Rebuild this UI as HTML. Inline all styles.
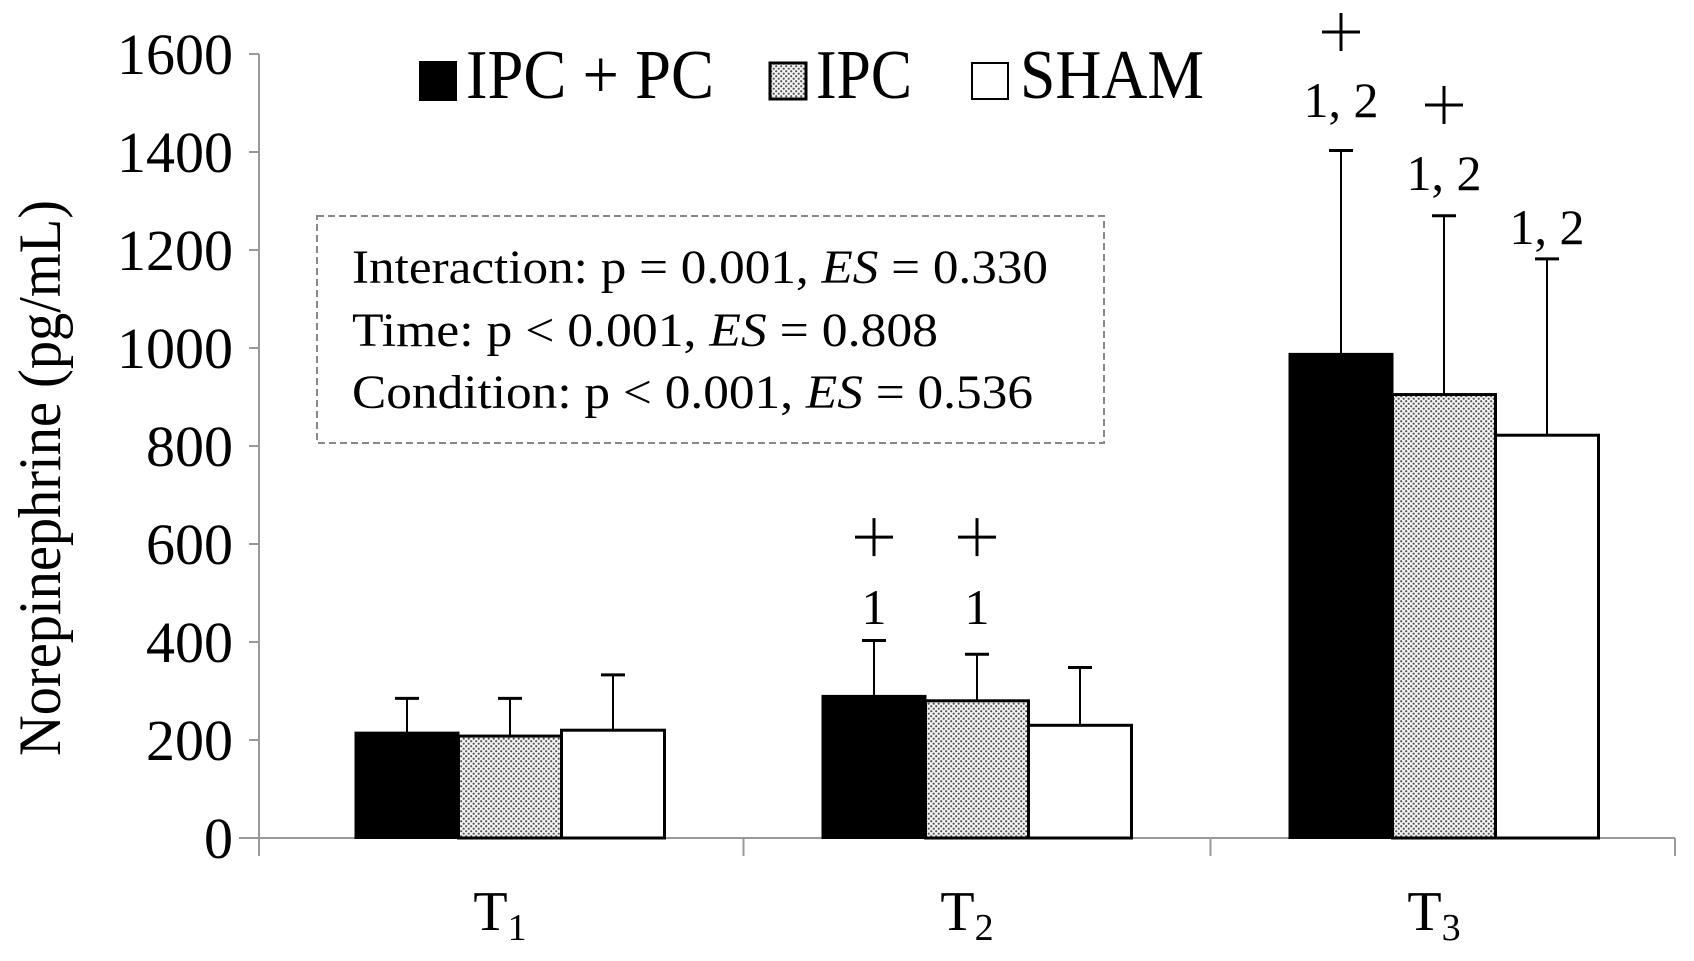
<!DOCTYPE html>
<html><head><meta charset="utf-8"><style>
body{margin:0;background:#fff}
svg{display:block;font-family:"Liberation Serif",serif}
</style></head><body>
<svg width="1694" height="961" viewBox="0 0 1694 961">
<defs>
<pattern id="dots" width="5" height="5" patternUnits="userSpaceOnUse">
<rect width="5" height="5" fill="#f4f4f4"/>
<circle cx="1.2" cy="1.2" r="1.1" fill="#555"/>
<circle cx="3.7" cy="3.7" r="1.1" fill="#555"/>
</pattern>
</defs>
<g id="axes"></g>
<g id="bars"></g>
<g font-size="70">
<rect x="419" y="61" width="38" height="40" fill="#000"/>
<text x="466" y="98" textLength="248" lengthAdjust="spacingAndGlyphs">IPC + PC</text>
<rect x="770" y="63" width="36" height="36" fill="url(#dots)" stroke="#000" stroke-width="3"/>
<text x="816" y="98" textLength="96" lengthAdjust="spacingAndGlyphs">IPC</text>
<rect x="972" y="63" width="36" height="36" fill="#fff" stroke="#000" stroke-width="2"/>
<text x="1020" y="98" textLength="184" lengthAdjust="spacingAndGlyphs">SHAM</text>
</g>
<g font-size="48">
<rect x="317" y="216" width="787" height="227" fill="none" stroke="#888" stroke-width="2" stroke-dasharray="7,4"/>
<text x="352" y="283" textLength="696" lengthAdjust="spacingAndGlyphs">Interaction: p = 0.001,  <tspan font-style="italic">ES</tspan> = 0.330</text>
<text x="352" y="346" textLength="586" lengthAdjust="spacingAndGlyphs">Time: p  &lt; 0.001, <tspan font-style="italic">ES</tspan> = 0.808</text>
<text x="352" y="408" textLength="681" lengthAdjust="spacingAndGlyphs">Condition: p &lt; 0.001,  <tspan font-style="italic">ES</tspan> = 0.536</text>
</g>
<text transform="translate(60,478) rotate(-90)" text-anchor="middle" font-size="60" textLength="556" lengthAdjust="spacingAndGlyphs">Norepinephrine  (pg/mL)</text>
</svg>
<script>
const categories=["T","T","T"];
const subs=["1","2","3"];
const seriesNames=["IPC + PC","IPC","SHAM"];
const ipcpc=[215,290,988];
const ipc=[208,280,905];
const sham=[220,230,822];
const errIpcpc=[70,113,415];
const errIpc=[77,95,365];
const errSham=[113,118,360];
const annLabels=[[null,"1","1, 2"],[null,"1","1, 2"],[null,null,"1, 2"]];
const annLabelVal=[[null,471,1506],[null,471,1357],[null,null,1247]];
const annPlusVal=[[null,614,1645],[null,614,1496],[null,null,null]];
const yTicks=[0,200,400,600,800,1000,1200,1400,1600];

const NS="http://www.w3.org/2000/svg";
const x0=259,x1=1675,y0=838,yTop=54,yMax=1600;
const catStart=276.5,catW=467;
const y=v=>y0-(v/yMax)*(y0-yTop);
const cx=i=>catStart+catW*(i+0.5);
const bw=103;
function mk(tag,attrs,parent){const e=document.createElementNS(NS,tag);for(const k in attrs)e.setAttribute(k,attrs[k]);parent.appendChild(e);return e;}
const axes=document.getElementById('axes'),bars=document.getElementById('bars');
let e=mk('line',{x1:x0,y1:yTop,x2:x0,y2:y0,stroke:'#999','stroke-width':2},axes);


e=mk('line',{x1:x0-20,y1:y0,x2:x1,y2:y0,stroke:'#999','stroke-width':2},axes);


yTicks.forEach(t=>{
 const l=mk('line',{x1:x0-10,y1:y(t),x2:x0,y2:y(t),stroke:'#999','stroke-width':2},axes);
 
 
 const tx=mk('text',{x:233,y:y(t)+20,'text-anchor':'end','font-size':58},axes);
 tx.textContent=t;
 
 
});
const sepX=[x0,catStart+catW,catStart+2*catW,x1];
sepX.forEach(sx=>{
 const l=mk('line',{x1:sx,y1:y0,x2:sx,y2:y0+18,stroke:'#999','stroke-width':2},axes);
 
 
});
categories.forEach((c,i)=>{
 const t=mk('text',{x:cx(i)-10,y:930,'text-anchor':'middle','font-size':56},axes);
 t.textContent=c;
 const s=mk('tspan',{'font-size':38,dy:10},t);s.textContent=subs[i];
 
 
});
const series=[ipcpc,ipc,sham],errs=[errIpcpc,errIpc,errSham];
const fills=['#000','url(#dots)','#fff'];
const names=['ipc-pc','ipc','sham'];
categories.forEach((c,i)=>{
 series.forEach((s,k)=>{
  const bx=cx(i)+(k-1.5)*bw;
  const mid=bx+bw/2;
  const top=y(s[i]+errs[k][i]);
  const el=mk('line',{x1:mid,y1:y(s[i]),x2:mid,y2:top,stroke:'#000','stroke-width':2},bars);
  
  
  const cap=mk('line',{x1:mid-12,y1:top,x2:mid+12,y2:top,stroke:'#000','stroke-width':3},bars);
  
  
  const r=mk('rect',{x:bx,y:y(s[i]),width:bw,height:y0-y(s[i]),fill:fills[k],stroke:'#000','stroke-width':k==0?2:3},bars);
  
  
  const lab=annLabels[k][i];
  if(lab){
   const t=mk('text',{x:mid,y:y(annLabelVal[k][i])+17,'text-anchor':'middle','font-size':50},bars);
   t.textContent=lab;
   
   
  }
  if(annPlusVal[k][i]!==null){
   const py=y(annPlusVal[k][i]);
   const p1=mk('line',{x1:mid-19,y1:py,x2:mid+19,y2:py,stroke:'#000','stroke-width':3},bars);
   
   
   const p2=mk('line',{x1:mid,y1:py-19,x2:mid,y2:py+19,stroke:'#000','stroke-width':3},bars);
   
   
  }
 });
});
</script>
</body></html>
